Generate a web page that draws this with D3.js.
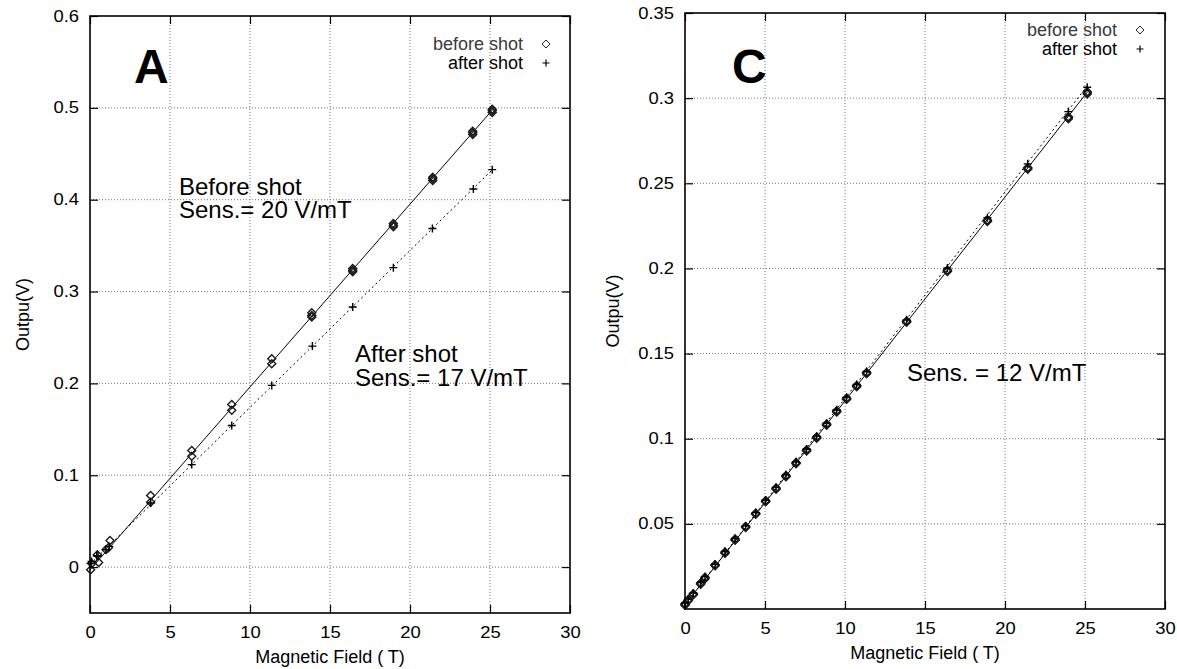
<!DOCTYPE html>
<meta charset="utf-8">

<style>
  body { margin: 0; background: white; }
  svg text { font-family: "Liberation Sans", Arial, sans-serif; fill: black; }
  .tick text { font-size: 16px; transform-box: fill-box; transform: scaleX(1.15); }
  .yaxis .tick text { transform-origin: 100% 50%; }
  .xaxis .tick text { transform-origin: 50% 50%; }
  .domain { display: none; }
  .tick line { stroke: black; stroke-width: 1.2; }
  .grid line { stroke: #777; stroke-width: 1; stroke-dasharray: 1,2; }
  .frame { fill: none; stroke: black; stroke-width: 1.6; }
  .title { font-size: 18px; }
  .note { font-size: 24px; }
  .letter { font-size: 48px; font-weight: bold; }
</style>

<body>
  <script src="https://d3js.org/d3.v7.min.js"></script>

  <script type="application/javascript">
    // ---- panel A : field (T) and output (V), several readings per field step
    var aFieldBefore = [0.04, 0.1, 0.46, 0.54, 1.0, 1.15, 1.25, 3.79, 3.79, 6.36, 6.36, 8.86, 8.86,
                        11.36, 11.36, 13.86, 13.86, 13.86, 16.42, 16.42, 16.42, 18.96, 18.96, 18.96,
                        21.42, 21.42, 21.42, 23.92, 23.92, 23.92, 25.14, 25.14, 25.14];
    var aOutBefore   = [-0.003, 0.004, 0.0134, 0.005, 0.019, 0.021, 0.029, 0.078, 0.0705, 0.127, 0.1207, 0.177, 0.1708,
                        0.2269, 0.2214, 0.277, 0.2723, 0.2738, 0.325, 0.3232, 0.3215, 0.374, 0.3723, 0.3706,
                        0.4245, 0.4228, 0.421, 0.4745, 0.4728, 0.471, 0.4985, 0.4968, 0.495];
    var aFieldAfter  = [0.04, 0.1, 0.42, 0.5, 1.0, 1.2, 3.79, 6.36, 8.86, 11.36, 13.9, 16.42, 18.96, 21.4, 23.96, 25.14];
    var aOutAfter    = [0.004, 0.006, 0.0123, 0.012, 0.019, 0.0225, 0.0698, 0.1116, 0.1541, 0.1978, 0.2406, 0.2832, 0.326, 0.3687, 0.4116, 0.4327];
    var aFitBeforeX  = [0, 25.14], aFitBeforeY = [-0.003, 0.4975];
    var aFitAfterX   = [0, 25.14], aFitAfterY  = [0.003, 0.4325];
    var aXTicks = [0, 5, 10, 15, 20, 25, 30];
    var aXLabels = ["0", "5", "10", "15", "20", "25", "30"];
    var aYTicks = [0, 0.1, 0.2, 0.3, 0.4, 0.5, 0.6];
    var aYLabels = ["0", "0.1", "0.2", "0.3", "0.4", "0.5", "0.6"];

    // ---- panel C
    var cField      = [0.0, 0.2, 0.52, 0.98, 1.25, 1.88, 2.5, 3.13, 3.79, 4.42, 5.04, 5.69, 6.31, 6.94,
                       7.6, 8.23, 8.85, 9.48, 10.1, 10.73, 11.35, 13.85, 16.4, 18.9, 21.42, 23.96, 25.14];
    var cBeforeRun1 = [0.0031, 0.0055, 0.009, 0.0153, 0.0186, 0.026, 0.0335, 0.0411, 0.0485, 0.0563, 0.0636, 0.071, 0.0784, 0.086,
                       0.0935, 0.101, 0.1086, 0.1164, 0.1238, 0.1312, 0.1389, 0.1692, 0.1991, 0.2285, 0.2592, 0.2891, 0.3038];
    var cBeforeRun2 = [0.0022, 0.0048, 0.0084, 0.0146, 0.0178, 0.0254, 0.0328, 0.0404, 0.0479, 0.0556, 0.063, 0.0703, 0.0777, 0.0853,
                       0.0928, 0.1003, 0.1079, 0.1157, 0.1231, 0.1305, 0.1382, 0.1684, 0.1982, 0.2276, 0.2582, 0.2879, 0.3024];
    var cBeforeRun3 = [0.0027, 0.0051, 0.0087, 0.015, 0.0182, 0.0257, 0.0331, 0.0408, 0.0482, 0.0559, 0.0633, 0.0707, 0.078, 0.0857,
                       0.0931, 0.1007, 0.1083, 0.116, 0.1234, 0.1309, 0.1386, 0.1688, 0.1987, 0.228, 0.2587, 0.2885, 0.3031];
    var cAfter      = [0.0034, 0.0058, 0.0094, 0.0156, 0.019, 0.0263, 0.0338, 0.0414, 0.0488, 0.0566, 0.064, 0.0714, 0.0788, 0.0864,
                       0.094, 0.1015, 0.1091, 0.117, 0.1244, 0.1318, 0.1395, 0.1698, 0.2003, 0.2298, 0.2614, 0.2921, 0.3064];
    var cFitBeforeX = [0, 25.14], cFitBeforeY = [0.0025, 0.3035];
    var cFitAfterX  = [0, 25.14], cFitAfterY  = [0.0025, 0.3072];
    var cXTicks = [0, 5, 10, 15, 20, 25, 30];
    var cXLabels = ["0", "5", "10", "15", "20", "25", "30"];
    var cYTicks = [0.05, 0.1, 0.15, 0.2, 0.25, 0.3, 0.35];
    var cYLabels = ["0.05", "0.1", "0.15", "0.2", "0.25", "0.3", "0.35"];

    var width = 1177, height = 669;

    var svg = d3.select("body").append("svg")
                .attr("width", width)
                .attr("height", height);

    function zip(xs, ys) {
      return xs.map(function(x, i) { return [x, ys[i]]; });
    }

    function drawPanel(p) {
      var x = d3.scaleLinear().domain(p.xDomain).range([p.left, p.right]);
      var y = d3.scaleLinear().domain(p.yDomain).range([p.bottom, p.top]);
      var g = svg.append("g");

      // dotted grid at the inner ticks
      var grid = g.append("g").attr("class", "grid");
      grid.selectAll(".gx")
          .data(p.xTicks.filter(function(d) { return d > p.xDomain[0] && d < p.xDomain[1]; }))
          .enter().append("line")
          .attr("x1", function(d) { return x(d); }).attr("x2", function(d) { return x(d); })
          .attr("y1", p.top).attr("y2", p.bottom);
      grid.selectAll(".gy")
          .data(p.yTicks.filter(function(d) { return d > p.yDomain[0] && d < p.yDomain[1]; }))
          .enter().append("line")
          .attr("y1", function(d) { return y(d); }).attr("y2", function(d) { return y(d); })
          .attr("x1", p.left).attr("x2", p.right);

      var line = d3.line().x(function(d) { return x(d[0]); }).y(function(d) { return y(d[1]); });

      g.append("path").datum(zip(p.fitBeforeX, p.fitBeforeY))
       .attr("d", line).attr("fill", "none").attr("stroke", "black").attr("stroke-width", 1);
      g.append("path").datum(zip(p.fitAfterX, p.fitAfterY))
       .attr("d", line).attr("fill", "none").attr("stroke", "black").attr("stroke-width", 1)
       .attr("stroke-dasharray", "2,3");

      // before shot : open diamonds
      p.before.forEach(function(series) {
        g.selectAll(null).data(series).enter().append("path")
         .attr("d", function(d) {
           var cx = x(d[0]), cy = y(d[1]), r = 4;
           return "M" + cx + "," + (cy - r) + "L" + (cx + r) + "," + cy + "L" + cx + "," + (cy + r) + "L" + (cx - r) + "," + cy + "Z";
         })
         .attr("fill", "none").attr("stroke", "#1a1a1a").attr("stroke-width", 1.4);
      });

      // after shot : plus signs
      g.selectAll(null).data(p.after).enter().append("path")
       .attr("d", function(d) {
         var cx = x(d[0]), cy = y(d[1]), r = 4;
         return "M" + (cx - r) + "," + cy + "H" + (cx + r) + "M" + cx + "," + (cy - r) + "V" + (cy + r);
       })
       .attr("stroke", "black").attr("stroke-width", 1.4);

      // axes with inward ticks on all four sides
      g.append("g").attr("class", "yaxis")
       .attr("transform", "translate(" + p.left + ",0)")
       .call(d3.axisLeft(y).tickValues(p.yTicks)
             .tickFormat(function(d, i) { return p.yLabels[i]; })
             .tickSize(-8).tickPadding(11));
      g.append("g").attr("class", "xaxis")
       .attr("transform", "translate(0," + p.bottom + ")")
       .call(d3.axisBottom(x).tickValues(p.xTicks)
             .tickFormat(function(d, i) { return p.xLabels[i]; })
             .tickSize(-8).tickPadding(14));
      g.append("g")
       .attr("transform", "translate(" + p.right + ",0)")
       .call(d3.axisRight(y).tickValues(p.yTicks).tickFormat("").tickSize(-8));
      g.append("g")
       .attr("transform", "translate(0," + p.top + ")")
       .call(d3.axisTop(x).tickValues(p.xTicks).tickFormat("").tickSize(-8));

      g.append("rect").attr("class", "frame")
       .attr("x", p.left).attr("y", p.top)
       .attr("width", p.right - p.left).attr("height", p.bottom - p.top);

      // titles
      g.append("text").attr("class", "title")
       .attr("x", (p.left + p.right) / 2).attr("y", p.bottom + 50)
       .attr("text-anchor", "middle").text("Magnetic Field ( T)");
      g.append("text").attr("class", "title")
       .attr("transform", "translate(" + (p.left - 61 + p.yTitleShift) + "," + ((p.top + p.bottom) / 2) + ") rotate(-90)")
       .attr("text-anchor", "middle").text("Outpu(V)");

      // panel letter
      g.append("text").attr("class", "letter")
       .attr("x", p.letterX).attr("y", 83).text(p.letter);

      // legend
      var lg = g.append("g").attr("transform", "translate(" + p.legendX + "," + p.legendY + ")");
      lg.append("text").attr("class", "title").attr("text-anchor", "end")
        .attr("x", 0).attr("y", 0).style("fill", "#3a3a3a").text("before shot");
      lg.append("text").attr("class", "title").attr("text-anchor", "end")
        .attr("x", 0).attr("y", 19).text("after shot");
      lg.append("path").attr("d", "M23,-10L27,-6L23,-2L19,-6Z")
        .attr("fill", "none").attr("stroke", "#222").attr("stroke-width", 1);
      lg.append("path").attr("d", "M19.5,13H26.5M23,9.5V16.5")
        .attr("stroke", "black").attr("stroke-width", 1.2);

      // annotations
      p.notes.forEach(function(n) {
        g.append("text").attr("class", "note").attr("x", n[0]).attr("y", n[1]).text(n[2]);
      });
    }

    drawPanel({
      left: 90, right: 570, top: 16, bottom: 613,
      xDomain: [0, 30], yDomain: [-0.05, 0.6],
      xTicks: aXTicks, xLabels: aXLabels, yTicks: aYTicks, yLabels: aYLabels,
      fitBeforeX: aFitBeforeX, fitBeforeY: aFitBeforeY,
      fitAfterX: aFitAfterX, fitAfterY: aFitAfterY,
      before: [zip(aFieldBefore, aOutBefore)],
      after: zip(aFieldAfter, aOutAfter),
      yTitleShift: 0,
      letter: "A", letterX: 134,
      legendX: 523, legendY: 50,
      notes: [[179, 195, "Before shot"], [179, 218, "Sens.= 20 V/mT"],
              [355, 362, "After shot"], [355, 386, "Sens.= 17 V/mT"]]
    });

    drawPanel({
      left: 685, right: 1165, top: 13, bottom: 609,
      xDomain: [0, 30], yDomain: [0, 0.35],
      xTicks: cXTicks, xLabels: cXLabels, yTicks: cYTicks, yLabels: cYLabels,
      fitBeforeX: cFitBeforeX, fitBeforeY: cFitBeforeY,
      fitAfterX: cFitAfterX, fitAfterY: cFitAfterY,
      before: [zip(cField, cBeforeRun1), zip(cField, cBeforeRun2), zip(cField, cBeforeRun3)],
      after: zip(cField, cAfter),
      yTitleShift: -5,
      letter: "C", letterX: 732,
      legendX: 1117, legendY: 36,
      notes: [[907, 381, "Sens. = 12 V/mT"]]
    });
  </script>
</body>
